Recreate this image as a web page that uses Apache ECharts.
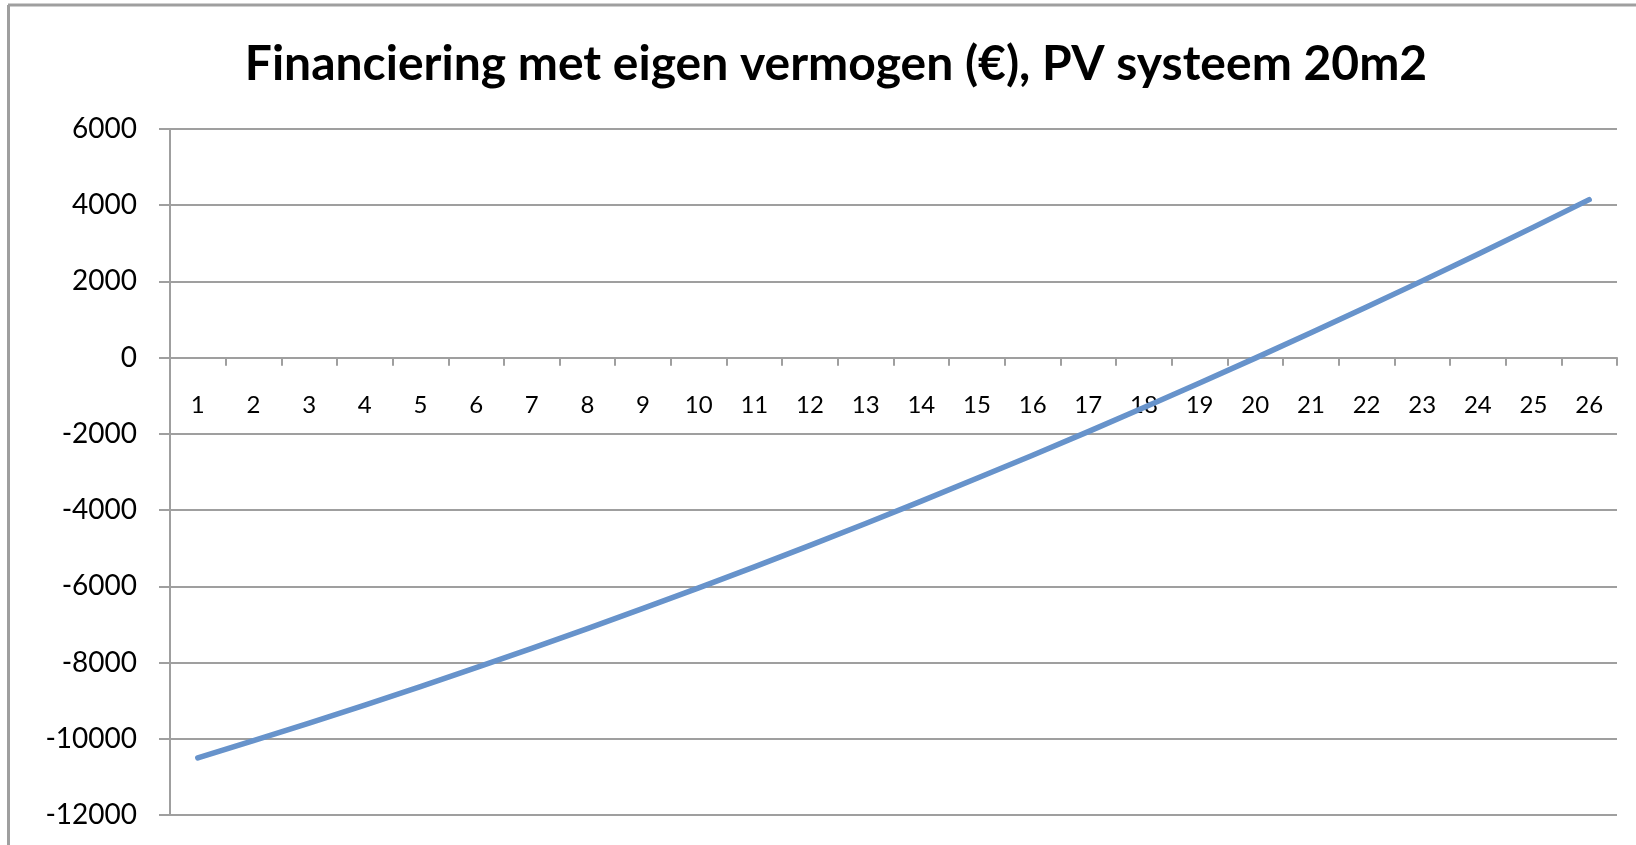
<!DOCTYPE html>
<html>
<head>
<meta charset="utf-8">
<script src="https://cdn.jsdelivr.net/npm/echarts@6/dist/echarts.min.js"></script>
<style>
html,body{margin:0;padding:0;background:#fff;}
#chart{width:1636px;height:845px;}
</style>
</head>
<body>
<div id="chart"></div>
<script>
const titleText = 'Financiering met eigen vermogen (€), PV systeem 20m2';
const years = ['1','2','3','4','5','6','7','8','9','10','11','12','13','14','15','16','17','18','19','20','21','22','23','24','25','26'];
const balance = [-10500,-10050,-9590,-9115,-8630,-8135,-7630,-7110,-6580,-6040,-5490,-4925,-4350,-3765,-3165,-2560,-1940,-1310,-665,-12,653,1330,2015,2715,3425,4146];
const yMin = -12000;
const yMax = 6000;
const yStep = 2000;

const grey = '#9f9f9f';
const gridTop = 129, gridBottom = 30, H = 845;
const plotH = H - gridTop - gridBottom;
// the category axis crosses the value axis at 0
const zeroOffset = -plotH * (0 - yMin) / (yMax - yMin);

const chart = echarts.init(document.getElementById('chart'), null, {renderer: 'canvas'});
chart.setOption({
  backgroundColor: '#ffffff',
  animation: false,
  title: {
    text: titleText,
    left: 831,
    top: 36,
    textAlign: 'center',
    textStyle: {fontFamily: 'Lato', fontWeight: 'bold', fontSize: 48, color: '#000'}
  },
  graphic: [
    {type: 'line', shape: {x1: 8, y1: 5, x2: 1636, y2: 5}, style: {stroke: grey, lineWidth: 3}},
    {type: 'line', shape: {x1: 8.5, y1: 5, x2: 8.5, y2: 845}, style: {stroke: grey, lineWidth: 3}}
  ],
  grid: {left: 170, right: 19, top: gridTop, bottom: gridBottom, containLabel: false, outerBoundsMode: 'none'},
  xAxis: {
    type: 'category',
    data: years,
    boundaryGap: true,
    position: 'bottom',
    offset: zeroOffset,
    axisLine: {show: true, onZero: false, lineStyle: {color: grey, width: 2}},
    axisTick: {show: true, length: 8, interval: 0, lineStyle: {color: grey, width: 2}},
    axisLabel: {interval: 0, margin: 36, fontFamily: 'Lato', fontSize: 24, color: '#000'},
    splitLine: {show: false}
  },
  yAxis: {
    type: 'value',
    min: yMin,
    max: yMax,
    interval: yStep,
    axisLine: {show: true, lineStyle: {color: grey, width: 2}},
    axisTick: {show: true, length: 11, lineStyle: {color: grey, width: 2}},
    axisLabel: {margin: 33, fontFamily: 'Lato', fontSize: 28, color: '#000', formatter: v => String(v)},
    splitLine: {show: true, lineStyle: {color: grey, width: 2}}
  },
  series: [{
    type: 'line',
    data: balance,
    showSymbol: false,
    symbol: 'none',
    lineStyle: {color: '#6793cb', width: 5.5, cap: 'round', join: 'round'},
    itemStyle: {color: '#6793cb'}
  }]
});
</script>
</body>
</html>
